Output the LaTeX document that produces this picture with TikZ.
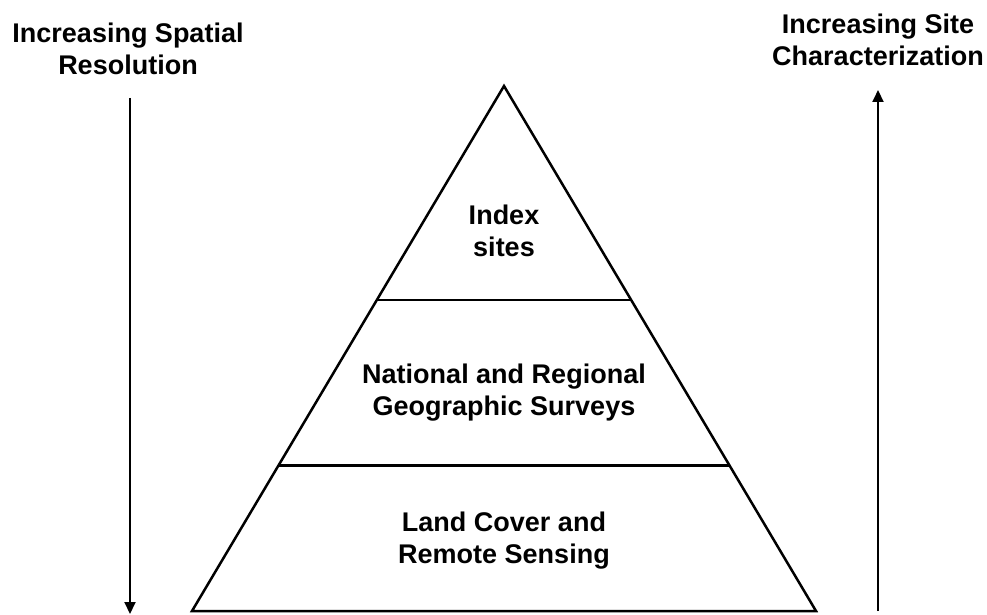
\documentclass[tikz,border=0pt]{standalone}
\usepackage{fontspec}
\setmainfont{Liberation Sans}
\usetikzlibrary{arrows.meta, calc}

\begin{document}
\begin{tikzpicture}[
        x=1pt, y=-1pt,
        label/.style={align=center, inner sep=0pt, font=\fontsize{27}{32}\selectfont\bfseries},
        layer/.style={line width=2.5pt, line join=miter},
        arrow/.style={-{Triangle[length=12pt, width=11pt]}, line width=2pt}
    ]
        \useasboundingbox (0,0) rectangle (987,615);

        % pyramid
        \coordinate (top) at (504,86);
        \coordinate (bl) at (192,611);
        \coordinate (br) at (816,611);
        \draw[layer] (top) -- (bl) -- (br) -- cycle;
        \draw[layer] ($(top)!0.408!(bl)$) coordinate (m1l) -- ($(top)!0.408!(br)$) coordinate (m1r);
        \draw[layer] ($(top)!0.723!(bl)$) coordinate (m2l) -- ($(top)!0.723!(br)$) coordinate (m2r);

        \node[label] (index) at (504,231) {Index\\sites};
        \node[label] (survey) at (504,393) {National and Regional\\Geographic Surveys};
        \node[label] (land) at (504,541) {Land Cover and\\Remote Sensing};

        % side arrows
        \node[label] (spatial) at (128,49) {Increasing Spatial\\Resolution};
        \node[label] (site) at (878,40) {Increasing Site\\Characterization};
        \coordinate (sp0) at (130,98);
        \coordinate (sp1) at (130,614);
        \coordinate (si0) at (878,611);
        \coordinate (si1) at (878,90);
        \draw[arrow] (sp0) -- (sp1);
        \draw[arrow] (si0) -- (si1);
    \end{tikzpicture}
\end{document}
